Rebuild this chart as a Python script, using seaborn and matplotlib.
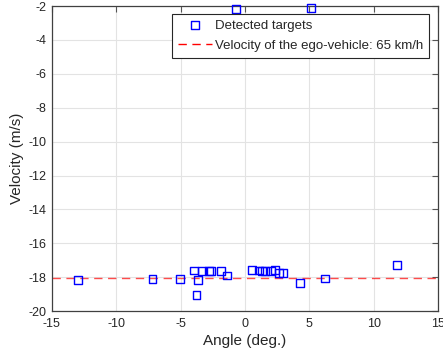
import matplotlib
matplotlib.use("Agg")
import matplotlib.pyplot as plt
import seaborn as sns
import pandas as pd

# Detected targets: angle (deg) and radial velocity (m/s)
angle_deg = [-12.98, -7.18, -5.05, -3.97, -3.66, -3.76, -3.34, -2.78, -2.67, -1.85,
             -1.42, -0.73, 0.54, 1.11, 1.32, 1.57, 1.99, 2.35, 2.61, 2.97,
             4.27, 5.15, 6.24, 11.78]
velocity_ms = [-18.15, -18.11, -18.10, -17.60, -18.15, -19.07, -17.64, -17.62, -17.64, -17.64,
               -17.90, -2.15, -17.58, -17.60, -17.62, -17.64, -17.64, -17.56, -17.76, -17.76,
               -18.33, -2.10, -18.08, -17.30]

ego_speed_kmh = 65
ego_velocity = -ego_speed_kmh / 3.6

x_ticks = [-15, -10, -5, 0, 5, 10, 15]
y_ticks = [-20, -18, -16, -14, -12, -10, -8, -6, -4, -2]

df = pd.DataFrame({"angle": angle_deg, "velocity": velocity_ms})

sns.set_style("whitegrid")
plt.rcParams["font.family"] = ["Liberation Sans", "DejaVu Sans"]
plt.rcParams["axes.unicode_minus"] = False

fig = plt.figure(figsize=(4.43, 3.58), dpi=100)
ax = fig.add_axes([0.117, 0.131, 0.872, 0.852])

sns.scatterplot(data=df, x="angle", y="velocity", ax=ax, marker="s",
                facecolor="none", edgecolor="#0000ff", linewidth=1.0, s=32,
                label="Detected targets", zorder=3, clip_on=False)
ax.axhline(ego_velocity, color="#ff0000", linestyle=(0, (6, 4)), linewidth=1.0,
           alpha=0.7, zorder=2,
           label=f"Velocity of the ego-vehicle: {ego_speed_kmh} km/h")

ax.set_xlim(-15, 15)
ax.set_ylim(-20, -2)
ax.set_xticks(x_ticks)
ax.set_yticks(y_ticks)
ax.set_xlabel("Angle (deg.)", fontsize=11, color="#262626", labelpad=3)
ax.set_ylabel("Velocity (m/s)", fontsize=11, color="#262626", labelpad=3)
ax.tick_params(axis="x", pad=5)
ax.tick_params(axis="y", pad=4)
ax.tick_params(axis="both", labelsize=9, labelcolor="#262626", direction="in",
               length=4, width=0.8, top=True, right=True, color="#555555")
ax.grid(True, color="#e3e3e3", linewidth=0.8)
for sp in ax.spines.values():
    sp.set_color("#404040")
    sp.set_linewidth(0.9)

leg = ax.legend(loc="upper right", fontsize=9.5, frameon=True, fancybox=False,
                edgecolor="#262626", framealpha=1.0, borderpad=0.45,
                handlelength=2.6, handletextpad=0.2, labelspacing=0.6,
                borderaxespad=0.0, bbox_to_anchor=(0.977, 0.975))
leg.get_frame().set_linewidth(0.8)
for h in leg.legend_handles:
    try:
        h.set_alpha(1.0)
    except Exception:
        pass

fig.savefig("out.png", dpi=100)
